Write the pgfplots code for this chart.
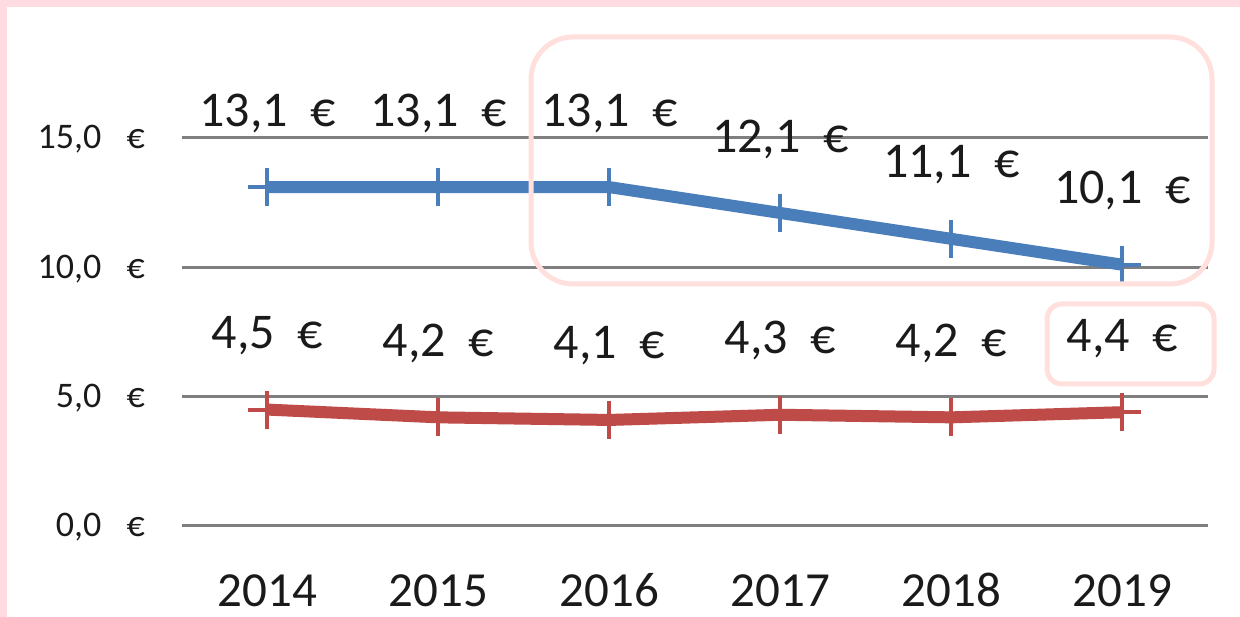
\documentclass[border=0pt]{standalone}
\usepackage{pgfplots}
\pgfplotsset{compat=1.18}
\usepackage{fontspec}
\setmainfont{Carlito}
\definecolor{frame}{HTML}{FFDCE1}
\definecolor{note}{HTML}{FFE0DD}
\definecolor{bl}{HTML}{4A7EBB}
\definecolor{rd}{HTML}{BE4B48}
\definecolor{gridc}{HTML}{7F7F7F}
\definecolor{txt}{HTML}{1A1A1A}
\begin{document}
\begin{tikzpicture}[x=1pt,y=1pt]
\useasboundingbox (0,0) rectangle (1240,617);
\fill[white] (0,0) rectangle (1240,617);
\fill[frame] (0,610) rectangle (1240,617);
\fill[frame] (0,0) rectangle (7,617);
\begin{axis}[
  at={(182pt,91pt)}, anchor=south west,
  scale only axis, width=1026pt, height=388pt,
  xmin=-0.5, xmax=5.5, ymin=0, ymax=15,
  clip=false,
  axis line style={draw=none},
  major tick length=0pt,
  xtick={0,1,2,3,4,5},
  xticklabels={2014,2015,2016,2017,2018,2019},
  ytick={0,5,10,15},
  ymajorgrids,
  grid style={gridc, line width=3pt},
  /pgf/number format/assume math mode=true,
  yticklabel={\pgfmathprintnumber[fixed,fixed zerofill,precision=1,use comma]{\tick}\hspace{0.7em}€},
  yticklabel style={font=\fontsize{36}{40}\selectfont, text=txt, anchor=base east, inner sep=0pt, xshift=-37pt, yshift=-11pt},
  xticklabel style={font=\fontsize{49}{56}\selectfont, text=txt, anchor=base, inner sep=0pt, yshift=-81pt},
  nodes near coords={\pgfmathprintnumber[fixed,fixed zerofill,precision=1,use comma]{\pgfplotspointmeta}\hspace{0.45em}€},
  every node near coord/.append style={font=\fontsize{50}{56}\selectfont, text=txt, anchor=base, inner sep=0pt, yshift=61pt},
]
\addplot[bl, line width=12pt, mark=+, mark size=19pt, mark options={line width=4pt}]
  coordinates {(0,13.1) (1,13.1) (2,13.1) (3,12.1) (4,11.1) (5,10.1)};
\addplot[rd, line width=12pt, mark=+, mark size=19pt, mark options={line width=4pt}]
  coordinates {(0,4.5) (1,4.2) (2,4.1) (3,4.3) (4,4.2) (5,4.4)};
\end{axis}
\draw[note, line width=5pt, rounded corners=42pt] (531,617-37) rectangle (1212,617-284);
\draw[note, line width=5pt, rounded corners=15pt] (1047,617-304) rectangle (1214,617-384);
\end{tikzpicture}
\end{document}
